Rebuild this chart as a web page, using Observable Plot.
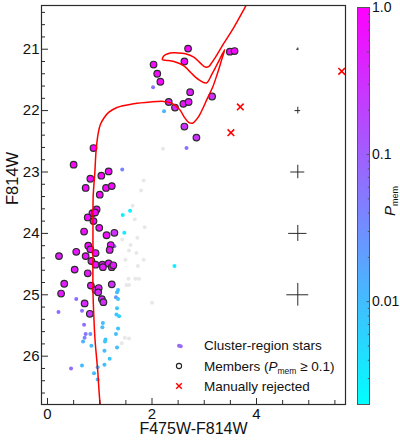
<!DOCTYPE html>
<html><head><meta charset="utf-8">
<script src="https://cdn.jsdelivr.net/npm/d3@7"></script>
<script src="https://cdn.jsdelivr.net/npm/@observablehq/plot@0.6"></script>
<style>
body{margin:0;background:#fff;}
#wrap{position:relative;width:400px;height:440px;}
#wrap svg{position:absolute;left:0;top:0;}
</style></head><body><div id="wrap"></div>
<script>
// ---------- data ----------
// cluster members (P_mem >= 0.1): colour, magnitude, membership probability
const memC = [2.69,2.03,2.62,2.10,2.16,2.73,2.32,2.44,2.60,2.70,2.62,2.85,3.15,3.49,3.58,
  0.88,0.50,1.17,1.03,0.82,0.73,1.12,1.23,1.00,0.94,0.86,0.91,0.77,0.88,0.99,0.70,1.13,1.28,
  0.78,0.82,0.92,1.21,1.19,0.73,0.55,0.22,0.84,0.92,1.05,1.06,1.17,1.23,1.26,0.52,0.77,0.32,
  0.83,0.92,0.98,0.97,1.23,0.26,1.04,1.07,0.71,0.81];
const memM = [20.99,21.25,21.20,21.40,21.53,21.70,21.86,21.95,21.89,21.86,22.26,22.44,21.77,21.04,21.03,
  22.61,22.88,22.99,23.06,23.11,23.26,23.26,23.23,23.37,23.61,23.67,23.66,23.74,23.80,23.91,23.97,24.03,23.99,
  24.20,24.26,24.32,24.19,24.27,24.37,24.30,24.37,24.45,24.51,24.51,24.55,24.49,24.55,24.52,24.59,24.65,24.82,
  24.85,24.92,24.89,24.96,24.83,24.98,25.07,25.12,25.14,25.31];
const memP = [0.8,0.8,0.8,0.8,0.8,0.5,0.5,0.35,0.6,0.6,0.3,0.3,0.3,0.7,0.8,
  0.9,0.9,0.8,0.8,0.8,0.8,0.8,0.8,0.8,0.8,0.8,0.8,0.8,0.8,0.7,0.7,0.7,0.3,
  0.7,0.7,0.7,0.6,0.6,0.7,0.6,0.5,0.7,0.7,0.5,0.5,0.6,0.5,0.5,0.5,0.6,0.5,
  0.6,0.4,0.5,0.4,0.35,0.5,0.35,0.35,0.35,0.3];

// other cluster-region stars inside the colour range
const fieldC = [2.02,2.23,2.66,1.43,1.58,1.44,1.47,1.28,2.43,1.35,1.33,1.31,1.35,0.55,0.66,0.21,1.33,1.32,1.37,
  1.06,1.05,0.70,1.35,0.73,0.82,0.71,1.31,1.11,1.10,0.68,0.84,1.09,1.33,1.19,0.45,0.66,1.09,0.96,0.89,0.96,2.55];
const fieldM = [21.62,22.01,22.61,22.96,23.63,23.70,23.99,24.21,24.53,24.92,24.96,25.04,25.07,25.07,25.26,25.28,25.22,25.32,25.35,
  25.46,25.53,25.49,25.55,25.64,25.64,25.70,25.64,25.73,25.76,25.76,25.83,25.91,25.86,26.04,26.20,26.15,26.14,26.18,26.28,26.38,25.84];
const fieldP = [0.06,0.012,0.06,0.04,0.003,0.003,0.003,0.07,0.003,0.01,0.01,0.03,0.008,0.07,0.07,0.07,0.008,0.008,0.006,
  0.01,0.01,0.07,0.008,0.06,0.025,0.04,0.01,0.008,0.008,0.012,0.01,0.01,0.01,0.008,0.07,0.01,0.01,0.01,0.01,0.01,0.07];

// cluster-region stars below the colour range (light grey)
const grayC = [2.21,1.84,1.79,1.63,1.67,1.86,1.72,1.43,1.59,1.56,1.70,1.49,1.84,1.73,1.55,1.68,1.75,1.51,1.56,2.00,1.48,1.56,1.42];
const grayM = [22.62,23.14,23.30,23.55,23.77,23.90,24.07,24.10,24.19,24.28,24.32,24.43,24.43,24.53,24.74,24.74,24.74,24.84,24.84,25.13,25.70,25.71,25.79];

// manually rejected
const rejC = [3.69,3.51,5.63];
const rejM = [21.94,22.36,21.36];

// isochrone
const isoC = [1.03,1.01,0.96,0.91,0.89,0.87,0.87,0.87,0.875,0.905,0.93,0.97,1.01,1.08,1.17,1.33,1.65,1.97,2.22,2.35,2.45,2.545,2.62,2.70,2.775,
  2.89,2.97,3.06,3.16,3.25,3.33,3.39,
  3.25,3.15,3.04,2.90,2.74,2.61,2.42,2.26,2.20,2.21,2.26,2.35,2.48,2.64,2.80,2.93,3.02,3.09,
  3.12,3.215,3.37,3.57,3.76,3.81,3.85];
const isoM = [26.85,26.79,26.23,25.74,25.42,24.93,24.28,23.71,23.38,23.02,22.65,22.37,22.23,22.12,22.03,21.95,21.89,21.86,21.85,21.87,21.92,22.00,22.11,22.19,22.205,
  22.10,21.97,21.80,21.62,21.40,21.18,21.01,
  21.24,21.40,21.55,21.50,21.38,21.27,21.20,21.18,21.17,21.13,21.09,21.06,21.06,21.075,21.13,21.23,21.29,21.28,
  21.25,21.13,20.91,20.64,20.35,20.27,20.20];

// typical photometric errors
const errMag = [21,22,23,24,25];
const errX   = [4.79,4.79,4.79,4.79,4.79];
const errDx  = [0.022,0.054,0.134,0.175,0.21];
const errDy  = [0.02,0.055,0.11,0.13,0.185];

// ticks
const xTicks = [0,2,4];
const xMinor = [0.5,1,1.5,2.5,3,3.5,4.5,5,5.5];
const yTicks = [21,22,23,24,25,26];
const yMinor = d3.range(102,134).map(d => d/5).filter(d => Math.abs(d - Math.round(d)) > 1e-6);
const cbTicks  = [0.01,0.1,0.5,1];
const cbLabels = ["0.01","0.1","0.5","1.0"];
const cbMinor  = [0.002,0.003,0.004,0.005,0.006,0.007,0.008,0.009,0.02,0.03,0.04,0.05,0.06,0.07,0.08,0.09,0.2,0.3,0.4,0.6,0.7,0.8,0.9];

// ---------- drawing ----------
const FONT = '"Liberation Sans", Arial, Helvetica, sans-serif';
const CLO = "#00ffff", CHI = "#ff00ff";
const ink = "#2b2b2b";
const intFmt = d => String(Math.round(d));

const main = Plot.plot({
  width: 400, height: 440,
  marginLeft: 41, marginRight: 55, marginTop: 5, marginBottom: 36,
  style: {fontFamily: FONT, fontSize: "15px", background: "white", color: "#111", overflow: "visible"},
  x: {domain: [-0.115, 5.703]},
  y: {domain: [20.288, 26.787], reverse: true},
  color: {type: "log", domain: [0.002, 1], range: [CLO, CHI], interpolate: "rgb"},
  marks: [
    Plot.dot(grayC, {x: grayC, y: grayM, r: 2, fill: "#e8e8e8"}),
    Plot.dot(fieldC, {x: fieldC, y: fieldM, r: 2, fill: fieldP}),
    Plot.dot(memC, {x: memC, y: memM, r: 3.3, fill: memP, stroke: ink, strokeWidth: 1.2}),
    Plot.line(isoC, {x: isoC, y: isoM, stroke: "#ff0000", strokeWidth: 1.5, curve: "catmull-rom", clip: true}),
    Plot.dot(rejC, {x: rejC, y: rejM, symbol: "times", r: 3.1, stroke: "#ff0000", strokeWidth: 1.6}),
    Plot.ruleY(errMag, {y: errMag, x1: errX.map((c, i) => c - errDx[i]), x2: errX.map((c, i) => c + errDx[i]), stroke: ink, strokeWidth: 1}),
    Plot.ruleX(errMag, {x: errX, y1: errMag.map((m, i) => m - errDy[i]), y2: errMag.map((m, i) => m + errDy[i]), stroke: ink, strokeWidth: 1}),
    Plot.axisX({ticks: xMinor, tickSize: -4, tickFormat: () => "", label: null, stroke: ink}),
    Plot.axisX({ticks: xTicks, tickSize: -6, tickFormat: () => "", label: null, stroke: ink}),
    Plot.axisX({ticks: xTicks, tickSize: 0, tickPadding: 4, tickFormat: intFmt, label: null, fontSize: 15}),
    Plot.axisY({ticks: yMinor, tickSize: -4, tickFormat: () => "", label: null, stroke: ink}),
    Plot.axisY({ticks: yTicks, tickSize: -7, tickFormat: () => "", label: null, stroke: ink}),
    Plot.axisY({ticks: yTicks, tickSize: 0, tickPadding: 2, tickFormat: intFmt, label: null, fontSize: 15}),
    Plot.frame({stroke: ink, strokeWidth: 1.2}),
    Plot.text(["F475W-F814W"], {text: d => d, frameAnchor: "bottom", dy: 29, fontSize: 16, fill: "#111"}),
    Plot.text(["F814W"], {text: d => d, frameAnchor: "left", dx: -29, rotate: -90, fontSize: 16.5, fill: "#111"})
  ]
});

// legend
(function () {
  const g = d3.select(main).append("g").attr("font-family", FONT).attr("font-size", 13.5)
    .attr("fill", "#111").attr("text-anchor", "start");
  const lx = 179, tx = 204, rows = [345.7, 366, 386];
  g.append("circle").attr("cx", lx).attr("cy", rows[0]).attr("r", 2).attr("fill", "#9a6af2");
  g.append("circle").attr("cx", lx).attr("cy", rows[1]).attr("r", 2.6).attr("fill", "none").attr("stroke", "#222").attr("stroke-width", 1.1);
  const s = 2.8;
  g.append("path").attr("d", `M${lx-s},${rows[2]-s}L${lx+s},${rows[2]+s}M${lx-s},${rows[2]+s}L${lx+s},${rows[2]-s}`)
    .attr("stroke", "#ff0000").attr("stroke-width", 1.5).attr("fill", "none");
  g.append("text").attr("x", tx).attr("y", rows[0]).attr("dy", "0.35em").text("Cluster-region stars");
  const t2 = g.append("text").attr("x", tx).attr("y", rows[1]).attr("dy", "0.35em");
  t2.append("tspan").text("Members (");
  t2.append("tspan").attr("font-style", "italic").text("P");
  t2.append("tspan").attr("font-size", 8.5).attr("dy", 3).text("mem");
  t2.append("tspan").attr("dy", -3).text(" \u2265 0.1)");
  g.append("text").attr("x", tx).attr("y", rows[2]).attr("dy", "0.35em").text("Manually rejected");
})();

// colour bar
const cb = Plot.plot({
  width: 400, height: 440,
  marginLeft: 357, marginRight: 31, marginTop: 7, marginBottom: 36,
  style: {fontFamily: FONT, fontSize: "14px", background: "transparent", color: "#111", overflow: "visible"},
  x: {axis: null, domain: [0, 1]},
  y: {type: "log", domain: [0.002, 1]},
  marks: [
    Plot.frame({fill: "url(#cbgrad)"}),
    Plot.axisY({anchor: "right", ticks: cbMinor, tickSize: -2.2, tickFormat: () => "", label: null, stroke: "#555"}),
    Plot.axisY({anchor: "right", ticks: cbTicks, tickSize: -3.5, tickFormat: () => "", label: null, stroke: "#555"}),
    Plot.axisY({anchor: "right", ticks: cbTicks, tickSize: 0, tickPadding: 2.5, label: null,
      tickFormat: d => cbLabels[cbTicks.indexOf(d)], fontSize: 14}),
    Plot.frame({stroke: "#555", strokeWidth: 1})
  ]
});
(function () {
  const s = d3.select(cb);
  const grad = s.insert("defs", ":first-child").append("linearGradient")
    .attr("id", "cbgrad").attr("x1", 0).attr("y1", 1).attr("x2", 0).attr("y2", 0);
  grad.append("stop").attr("offset", 0).attr("stop-color", CLO);
  grad.append("stop").attr("offset", 1).attr("stop-color", CHI);
  const t = s.append("text").attr("transform", "translate(395,201) rotate(-90)")
    .attr("text-anchor", "middle").attr("font-family", FONT).attr("fill", "#111");
  t.append("tspan").attr("font-style", "italic").attr("font-size", 15).text("P");
  t.append("tspan").attr("font-size", 9).attr("dy", 2.5).text("mem");
})();

document.getElementById("wrap").append(main, cb);
</script></body></html>
